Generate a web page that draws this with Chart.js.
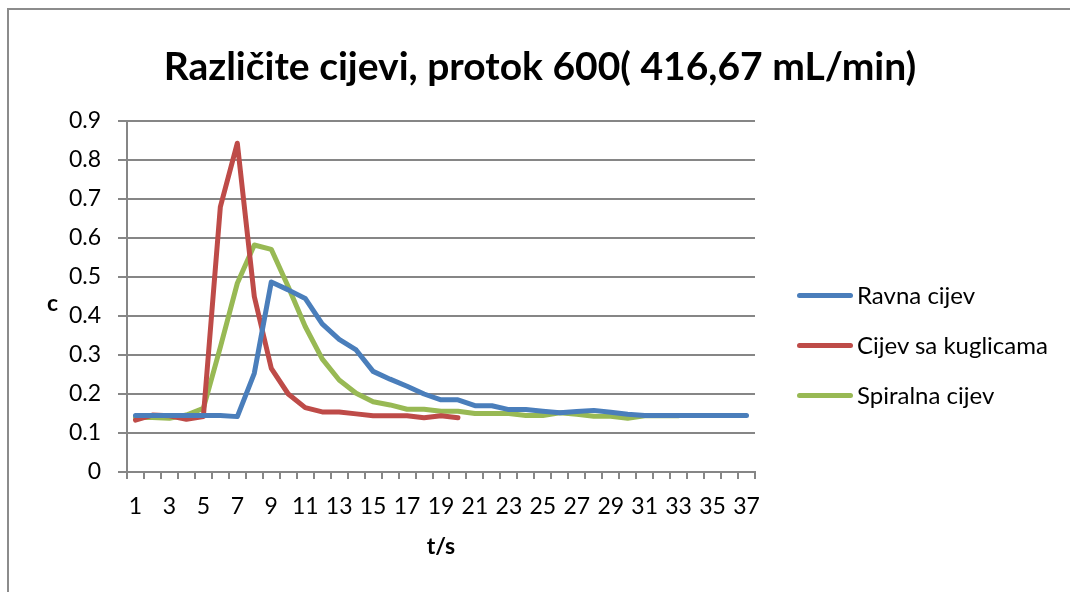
<!DOCTYPE html>
<html>
<head>
<meta charset="utf-8">
<script src="https://cdn.jsdelivr.net/npm/chart.js@4.4.1/dist/chart.umd.min.js"></script>
<style>
    html, body { margin: 0; padding: 0; background: #fff; }
    #wrap { position: relative; width: 1070px; height: 592px; overflow: hidden; font-family: Lato, 'Open Sans', sans-serif; }
    #frame { position: absolute; left: 7px; top: 8px; width: 1100px; height: 700px; border-top: 2px solid #8c8c8c; border-left: 2px solid #8c8c8c; }
    #title { position: absolute; left: 0; width: 1080px; top: 41px; line-height: 48px; text-align: center; font-weight: bold; font-size: 39px; color: #000; }
    #yTitle { position: absolute; left: 47px; top: 288px; line-height: 28px; font-weight: bold; font-size: 23px; color: #000; }
    #chart { position: absolute; left: 0; top: 0; }
    #legend { position: absolute; left: 797px; top: 280px; }
    .item { height: 50px; display: flex; align-items: flex-start; font-size: 24px; line-height: 30px; color: #000; }
    .swatch { width: 56px; height: 5px; border-radius: 3px; margin-top: 13px; margin-right: 4px; }
</style>
</head>
<body>
<div id="wrap">
    <div id="frame"></div>
    <canvas id="chart" width="1070" height="592"></canvas>
    <div id="title">Različite cijevi, protok 600( 416,67 mL/min)</div>
    <div id="yTitle">c</div>
    <div id="legend"></div>
</div>
<script>
const timeLabels = ['1', '2', '3', '4', '5', '6', '7', '8', '9', '10', '11', '12', '13', '14', '15', '16', '17', '18', '19',
    '20', '21', '22', '23', '24', '25', '26', '27', '28', '29', '30', '31', '32', '33', '34', '35', '36', '37'];

const ravnaCijev = [0.145, 0.145, 0.145, 0.145, 0.145, 0.145, 0.142, 0.253, 0.487, 0.467, 0.445, 0.380, 0.340, 0.313,
    0.258, 0.238, 0.220, 0.200, 0.185, 0.185, 0.170, 0.170, 0.160, 0.160, 0.156, 0.152, 0.155, 0.158, 0.153, 0.148,
    0.145, 0.145, 0.145, 0.145, 0.145, 0.145, 0.145];

const cijevSaKuglicama = [0.133, 0.146, 0.144, 0.135, 0.142, 0.680, 0.843, 0.450, 0.266, 0.200, 0.165, 0.154, 0.154,
    0.149, 0.144, 0.144, 0.144, 0.139, 0.144, 0.139];

const spiralnaCijev = [0.140, 0.140, 0.138, 0.146, 0.163, 0.320, 0.484, 0.582, 0.571, 0.475, 0.373, 0.290, 0.236,
    0.202, 0.180, 0.172, 0.161, 0.161, 0.156, 0.156, 0.150, 0.150, 0.150, 0.145, 0.145, 0.152, 0.148, 0.143, 0.143,
    0.138, 0.144, 0.144, 0.144];

const seriesNames = ['Ravna cijev', 'Cijev sa kuglicama', 'Spiralna cijev'];
const seriesColors = ['#4a7ebb', '#be4b48', '#98b954'];

const gridColor = '#868686';

function makeDataset(name, data, color) {
    return {
        label: name,
        data: data,
        borderColor: color,
        backgroundColor: color,
        borderWidth: 5,
        pointRadius: 0,
        tension: 0,
        borderJoinStyle: 'round',
        borderCapStyle: 'round',
        fill: false
    };
}

const ctx = document.getElementById('chart').getContext('2d');
const chart = new Chart(ctx, {
    type: 'line',
    data: {
        labels: timeLabels,
        datasets: [
            makeDataset(seriesNames[0], ravnaCijev, seriesColors[0]),
            makeDataset(seriesNames[1], cijevSaKuglicama, seriesColors[1]),
            makeDataset(seriesNames[2], spiralnaCijev, seriesColors[2])
        ]
    },
    options: {
        responsive: false,
        animation: false,
        layout: {
            padding: { left: 0, top: 121, right: 315, bottom: 32 }
        },
        plugins: {
            legend: { display: false },
            title: { display: false },
            tooltip: { enabled: false }
        },
        scales: {
            x: {
                offset: true,
                grid: {
                    offset: true,
                    drawOnChartArea: false,
                    drawTicks: true,
                    tickLength: 7,
                    color: gridColor,
                    lineWidth: 2
                },
                border: { color: gridColor, width: 2 },
                ticks: {
                    autoSkip: false,
                    maxRotation: 0,
                    padding: 14,
                    color: '#000',
                    font: { family: 'Lato', size: 23 },
                    callback: function (value, index) {
                        return index % 2 === 0 ? this.getLabelForValue(value) : '';
                    }
                },
                title: {
                    display: true,
                    text: 't/s',
                    color: '#000',
                    font: { family: 'Lato', size: 23, weight: 'bold' },
                    padding: { top: 8, bottom: 0 }
                },
                afterFit: (scale) => { scale.height = 88; }
            },
            y: {
                min: 0,
                max: 0.9,
                grid: {
                    color: gridColor,
                    lineWidth: 2,
                    tickLength: 9
                },
                border: { color: gridColor, width: 2 },
                ticks: {
                    stepSize: 0.1,
                    padding: 17,
                    color: '#000',
                    font: { family: 'Lato', size: 23 },
                    callback: (value) => Math.round(value * 10) / 10
                },
                afterFit: (scale) => { scale.width = 127; }
            }
        }
    }
});

const legend = document.getElementById('legend');
seriesNames.forEach((name, i) => {
    const item = document.createElement('div');
    item.className = 'item';
    item.innerHTML = `<div class="swatch" style="background:${seriesColors[i]}"></div><span>${name}</span>`;
    legend.appendChild(item);
});
</script>
</body>
</html>
